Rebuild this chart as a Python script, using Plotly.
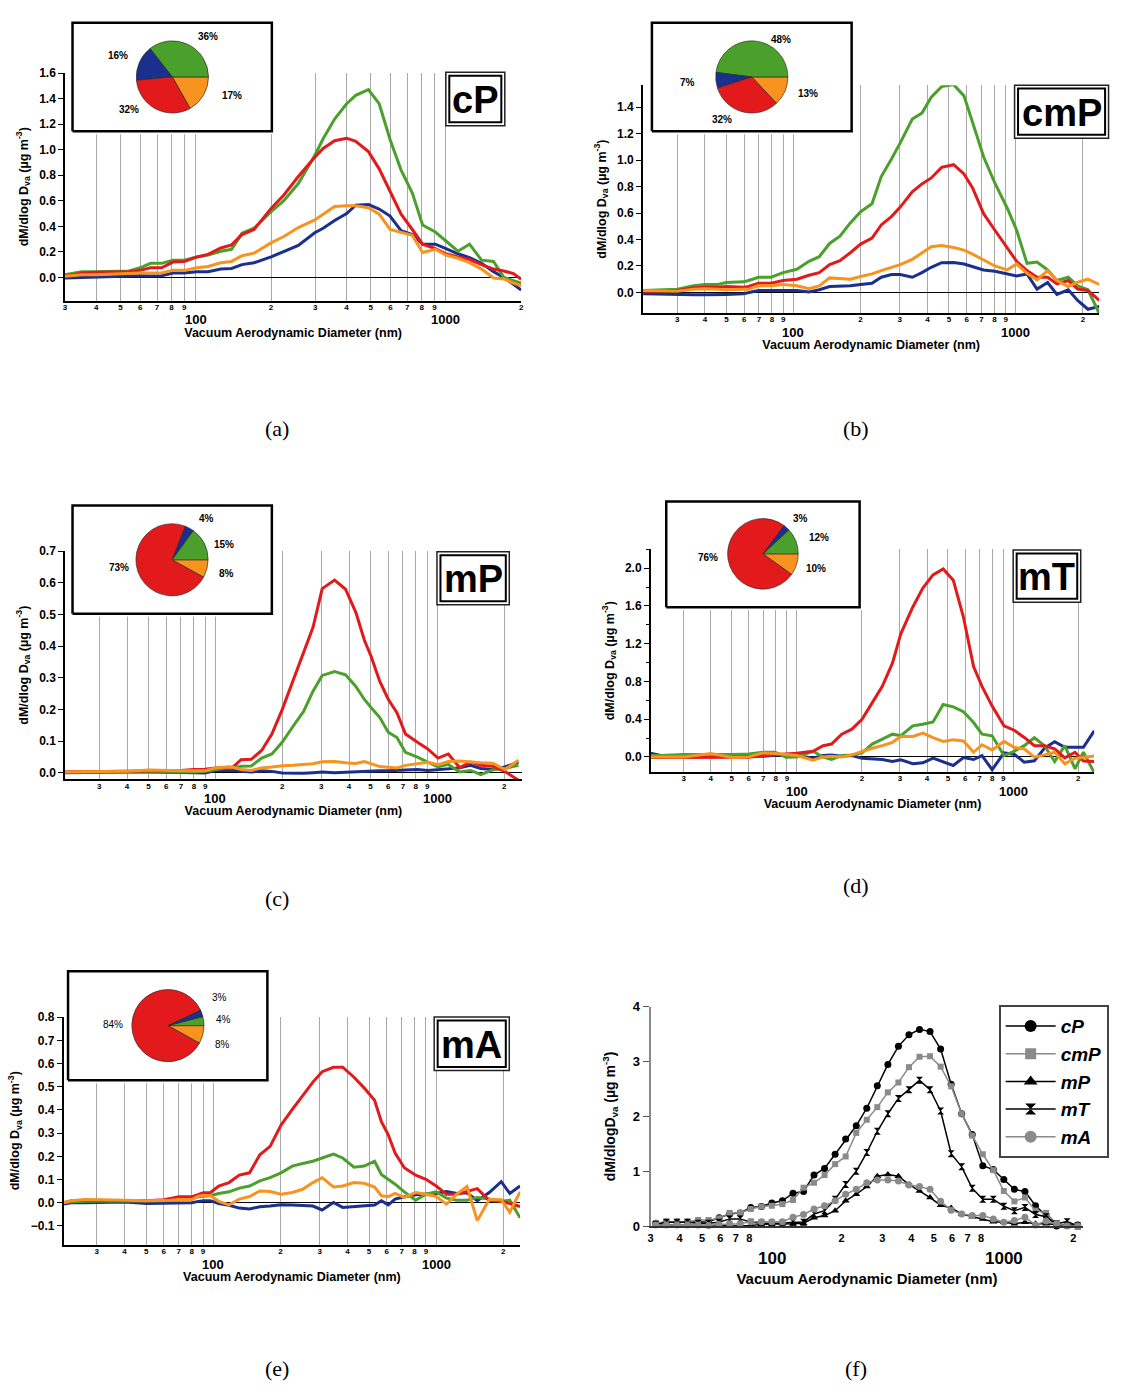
import math
import plotly.graph_objects as go

W, H = 1123, 1392
FONT = "Liberation Sans, Arial, Helvetica, sans-serif"
SERIF = "Liberation Serif, Times New Roman, serif"

def xp(px):
    return px / W

def yp(py):
    return 1 - py / H

GREEN, BLUE, RED, ORANGE = "#4ba02b", "#1b2f8e", "#e31a1c", "#f7931e"
GRAY = "#8a8a8a"

# ---------------- data ----------------
a_x = [30, 35, 40, 50, 54, 60, 66, 73, 81, 90, 101, 112, 126, 139, 153, 171, 200, 225, 257, 299,
       323, 359, 401, 436, 490, 541, 598, 662, 734, 807, 907, 1000, 1117, 1243, 1388, 1550, 1704, 1862, 2000]
a_green = [0.02, 0.045, 0.045, 0.05, 0.05, 0.075, 0.11, 0.11, 0.135, 0.135, 0.16, 0.175, 0.205, 0.22, 0.345, 0.385,
           0.515, 0.6, 0.735, 0.955, 1.085, 1.24, 1.36, 1.425, 1.47, 1.36, 1.08, 0.84, 0.66, 0.41, 0.355, 0.285,
           0.205, 0.26, 0.135, 0.125, 0.0, -0.025, -0.045]
a_red = [0.01, 0.035, 0.04, 0.045, 0.045, 0.055, 0.075, 0.075, 0.12, 0.125, 0.16, 0.18, 0.23, 0.255, 0.335, 0.375,
         0.54, 0.645, 0.79, 0.94, 1.01, 1.07, 1.09, 1.065, 0.985, 0.85, 0.67, 0.495, 0.375, 0.26, 0.225, 0.185,
         0.16, 0.14, 0.1, 0.065, 0.05, 0.03, -0.015]
a_orange = [0.008, 0.02, 0.02, 0.03, 0.035, 0.035, 0.035, 0.035, 0.055, 0.055, 0.075, 0.085, 0.115, 0.125, 0.17,
            0.19, 0.27, 0.32, 0.39, 0.45, 0.495, 0.555, 0.56, 0.56, 0.545, 0.495, 0.375, 0.35, 0.33, 0.195, 0.22,
            0.175, 0.15, 0.115, 0.065, -0.005, -0.012, -0.045, -0.065]
a_blue = [-0.005, 0.0, 0.0, 0.008, 0.008, 0.013, 0.01, 0.013, 0.035, 0.035, 0.045, 0.045, 0.065, 0.07, 0.1, 0.115,
          0.16, 0.2, 0.25, 0.35, 0.385, 0.445, 0.5, 0.565, 0.57, 0.535, 0.48, 0.365, 0.335, 0.26, 0.26, 0.225,
          0.185, 0.155, 0.11, 0.045, 0.0, -0.055, -0.1]

b_x = [21.1, 30.1, 35.6, 39.9, 45.6, 49.9, 59.6, 62.9, 69.5, 79.3, 89.9, 103.6, 117.4, 130.6, 145.4, 161.8, 180.1,
       200.4, 225.4, 248.1, 276.2, 301.9, 342.0, 377.9, 416.2, 463.2, 524.6, 583.9, 638.3, 715.3, 804.3, 911.8,
       1007, 1121, 1243, 1388, 1528, 1719, 1893, 2106, 2369]
b_green = [0.015, 0.025, 0.05, 0.06, 0.06, 0.075, 0.08, 0.09, 0.115, 0.115, 0.15, 0.175, 0.235, 0.27, 0.37, 0.425,
           0.525, 0.61, 0.67, 0.875, 1.01, 1.13, 1.31, 1.355, 1.475, 1.555, 1.57, 1.485, 1.285, 1.025, 0.825, 0.64,
           0.47, 0.22, 0.23, 0.17, 0.09, 0.115, 0.05, 0.02, -0.16]
b_red = [0.008, 0.015, 0.035, 0.04, 0.04, 0.045, 0.04, 0.045, 0.07, 0.07, 0.09, 0.1, 0.13, 0.15, 0.21, 0.24, 0.3,
         0.365, 0.41, 0.51, 0.575, 0.645, 0.76, 0.82, 0.865, 0.945, 0.965, 0.895, 0.79, 0.595, 0.47, 0.34, 0.235,
         0.165, 0.115, 0.115, 0.065, 0.09, 0.025, 0.015, -0.06]
b_orange = [0.015, 0.01, 0.025, 0.028, 0.025, 0.02, 0.025, 0.025, 0.05, 0.05, 0.06, 0.05, 0.028, 0.05, 0.11, 0.105,
            0.1, 0.12, 0.14, 0.165, 0.19, 0.21, 0.25, 0.295, 0.345, 0.355, 0.34, 0.32, 0.29, 0.245, 0.2, 0.17, 0.215,
            0.145, 0.095, 0.165, 0.09, 0.045, 0.077, 0.1, 0.06]
b_blue = [-0.01, -0.018, -0.018, -0.018, -0.018, -0.015, -0.01, 0.0, 0.015, 0.015, 0.015, 0.015, 0.003, 0.02, 0.045,
          0.045, 0.05, 0.06, 0.07, 0.115, 0.135, 0.135, 0.115, 0.15, 0.19, 0.225, 0.227, 0.215, 0.197, 0.17, 0.16,
          0.14, 0.125, 0.14, 0.025, 0.075, -0.015, 0.02, -0.06, -0.127, -0.105]

c_x = [21.0, 29.9, 40.0, 50.0, 59.7, 70.1, 79.9, 89.9, 100, 113.2, 120.3, 130.5, 145.2, 161.6, 179.7, 200.0, 224.8,
       250.1, 275.4, 303.0, 344.4, 385.9, 429.3, 469.3, 503.8, 550.6, 601.7, 657.5, 718.6, 813.8, 905.2, 1007, 1121,
       1260, 1412, 1570, 1778, 2014, 2321]
c_red = [0.003, 0.005, 0.006, 0.007, 0.007, 0.008, 0.011, 0.012, 0.016, 0.018, 0.019, 0.042, 0.043, 0.071, 0.123, 0.2,
         0.294, 0.377, 0.46, 0.582, 0.609, 0.58, 0.507, 0.419, 0.367, 0.289, 0.232, 0.19, 0.123, 0.097, 0.076, 0.047,
         0.06, 0.017, 0.034, 0.024, 0.021, 0.005, -0.023]
c_green = [0.003, 0.003, 0.003, 0.003, 0.001, 0.001, 0.003, 0.005, 0.011, 0.016, 0.016, 0.021, 0.022, 0.047, 0.06,
           0.097, 0.149, 0.195, 0.258, 0.308, 0.32, 0.31, 0.273, 0.232, 0.206, 0.175, 0.128, 0.112, 0.065, 0.05,
           0.034, 0.019, 0.027, 0.003, 0.008, -0.005, 0.01, 0.014, 0.024]
c_orange = [0.003, 0.003, 0.005, 0.009, 0.007, 0.007, 0.007, 0.007, 0.016, 0.019, 0.018, 0.011, 0.008, 0.016, 0.019,
            0.023, 0.024, 0.026, 0.029, 0.035, 0.036, 0.032, 0.03, 0.036, 0.029, 0.02, 0.018, 0.016, 0.024, 0.029,
            0.034, 0.026, 0.036, 0.038, 0.034, 0.032, 0.031, 0.011, 0.04]
c_blue = [0.001, 0.003, 0.003, 0.003, 0.003, 0.002, 0.001, 0.0, 0.008, 0.008, 0.008, 0.005, 0.003, 0.007, 0.005, 0.0,
          -0.001, -0.001, 0.001, 0.003, 0.001, 0.003, 0.005, 0.005, 0.006, 0.007, 0.007, 0.008, 0.011, 0.011, 0.008,
          0.011, 0.014, 0.016, 0.024, 0.014, 0.011, 0.019, 0.034]

d_x = [21.1, 23.5, 30.1, 40.1, 50.1, 60.0, 69.8, 79.4, 89.1, 100, 118.9, 132.4, 144.8, 161.4, 179.8, 200.3, 223.1,
       248.5, 276.8, 302.9, 343.6, 382.7, 426.4, 475, 529, 589.3, 656.5, 718.2, 800, 907.4, 1011, 1126, 1254, 1397,
       1556, 1734, 1932, 2113, 2371]
d_red = [-0.007, -0.007, -0.007, -0.003, -0.007, -0.003, 0.014, 0.021, 0.031, 0.038, 0.059, 0.119, 0.136, 0.241,
         0.294, 0.399, 0.573, 0.748, 0.993, 1.308, 1.587, 1.79, 1.93, 1.993, 1.874, 1.483, 0.958, 0.748, 0.538,
         0.329, 0.283, 0.206, 0.119, 0.119, 0.084, -0.01, 0.049, -0.045, -0.049]
d_green = [0.014, 0.014, 0.024, 0.021, 0.024, 0.031, 0.049, 0.049, -0.003, 0.0, 0.059, -0.003, -0.028, 0.014, 0.021,
           0.042, 0.136, 0.189, 0.241, 0.224, 0.329, 0.346, 0.371, 0.556, 0.531, 0.479, 0.364, 0.241, 0.224, 0.014,
           0.059, 0.119, 0.203, 0.119, -0.049, 0.119, -0.126, 0.049, -0.168]
d_orange = [0.0, 0.0, 0.0, 0.035, -0.007, 0.0, 0.042, 0.035, 0.021, 0.014, -0.035, 0.0, 0.007, 0.0, 0.021, 0.059,
            0.091, 0.119, 0.154, 0.217, 0.217, 0.252, 0.203, 0.164, 0.182, 0.168, 0.049, 0.129, 0.073, 0.164, 0.101,
            0.084, -0.003, 0.021, 0.049, -0.073, -0.014, -0.007, 0.01]
d_blue = [0.038, 0.014, 0.007, 0.021, 0.021, 0.007, 0.007, 0.014, 0.024, 0.014, -0.014, 0.014, 0.021, 0.007, 0.014,
          -0.014, -0.021, -0.028, -0.049, -0.031, -0.073, -0.063, -0.014, -0.049, -0.091, -0.007, -0.028, 0.014,
          -0.136, 0.042, 0.028, -0.056, -0.042, 0.094, 0.161, 0.101, 0.098, 0.101, 0.276]

e_x = [21.3, 23.1, 26.6, 30.1, 34.1, 40.3, 50.2, 60.1, 64.5, 70.2, 80.3, 85.6, 90.3, 96.9, 105.8, 117.7, 130.9,
       145.5, 161.8, 179.9, 201.4, 226.3, 251.7, 279.9, 307.9, 346.1, 380.7, 427.9, 475.9, 529.2, 567.8, 609.5,
       654.4, 719.6, 808.9, 899.4, 1000, 1112, 1237, 1375, 1529, 1730, 1958, 2139, 2378]
e_red = [0.0, 0.009, 0.011, 0.011, 0.011, 0.009, 0.009, 0.013, 0.018, 0.026, 0.026, 0.034, 0.043, 0.043, 0.072,
         0.087, 0.119, 0.129, 0.207, 0.243, 0.335, 0.402, 0.463, 0.52, 0.565, 0.584, 0.584, 0.541, 0.494, 0.442,
         0.349, 0.293, 0.214, 0.151, 0.119, 0.101, 0.072, 0.037, 0.037, 0.048, 0.061, 0.009, 0.006, -0.003, -0.016]
e_green = [0.0, 0.004, 0.006, 0.006, 0.006, 0.006, 0.006, 0.009, 0.011, 0.014, 0.018, 0.026, 0.028, 0.03, 0.04,
           0.047, 0.063, 0.072, 0.094, 0.108, 0.129, 0.158, 0.169, 0.179, 0.193, 0.21, 0.193, 0.153, 0.158, 0.179,
           0.122, 0.101, 0.08, 0.047, 0.011, 0.037, 0.047, 0.02, 0.011, 0.011, 0.023, 0.016, 0.006, 0.011, -0.065]
e_orange = [0.0, 0.009, 0.014, 0.014, 0.014, 0.011, 0.009, 0.009, 0.011, 0.014, 0.014, 0.028, 0.031, 0.031, 0.006,
            -0.009, 0.016, 0.027, 0.051, 0.048, 0.037, 0.044, 0.058, 0.087, 0.108, 0.068, 0.072, 0.087, 0.084,
            0.068, 0.03, 0.026, 0.04, 0.023, 0.044, 0.037, 0.027, -0.006, 0.037, 0.07, -0.077, 0.014, 0.013,
            -0.041, 0.047]
e_blue = [-0.006, 0.0, 0.0, 0.001, 0.004, 0.003, -0.003, -0.003, -0.003, 0.0, 0.0, 0.006, 0.009, 0.009, -0.003,
          -0.011, -0.023, -0.027, -0.017, -0.014, -0.009, -0.01, -0.011, -0.014, -0.031, 0.001, -0.02, -0.017,
          -0.013, -0.01, 0.009, -0.009, 0.016, 0.026, 0.034, 0.037, 0.04, 0.048, 0.04, 0.043, 0.009, 0.044, 0.091,
          0.04, 0.072]

f_x = [31.6, 35.1, 39.0, 43.3, 48.1, 53.4, 59.3, 65.8, 73.1, 81.2, 90.2, 100.1, 111.2, 123.5, 137.1, 152.2, 169.0,
       187.7, 208.4, 231.5, 257.0, 285.4, 317.0, 352.0, 390.8, 434.0, 481.9, 535.3, 594.3, 659.9, 732.8, 813.7,
       903.6, 1003, 1114, 1237, 1374, 1526, 1694, 1881, 2089]
f_cP = [0.05, 0.07, 0.07, 0.07, 0.07, 0.08, 0.15, 0.22, 0.24, 0.34, 0.355, 0.42, 0.46, 0.6, 0.63, 0.93, 1.05, 1.31,
        1.59, 1.83, 2.15, 2.56, 2.95, 3.28, 3.49, 3.59, 3.55, 3.23, 2.59, 2.05, 1.67, 1.1, 1.03, 0.85, 0.67, 0.63,
        0.37, 0.19, 0.0, 0.02, 0.02]
f_cmP = [0.05, 0.08, 0.08, 0.08, 0.11, 0.11, 0.14, 0.24, 0.24, 0.31, 0.355, 0.37, 0.4, 0.475, 0.7, 0.79, 0.93, 1.13,
         1.27, 1.7, 1.94, 2.17, 2.44, 2.62, 2.9, 3.09, 3.1, 2.91, 2.55, 2.05, 1.65, 1.31, 1.02, 0.64, 0.45, 0.52,
         0.28, 0.24, 0.04, 0.0, 0.0]
f_mP = [0.02, 0.02, 0.02, 0.01, 0.01, 0.01, 0.01, 0.0, 0.0, 0.01, 0.03, 0.03, 0.04, 0.04, 0.05, 0.15, 0.19, 0.28,
        0.46, 0.58, 0.72, 0.91, 0.94, 0.91, 0.76, 0.64, 0.52, 0.38, 0.33, 0.22, 0.17, 0.13, 0.08, 0.07, 0.04, 0.07,
        0.04, 0.04, 0.02, 0.01, 0.0]
f_mT = [0.03, 0.07, 0.07, 0.07, 0.05, 0.05, 0.07, 0.13, 0.13, 0.07, 0.05, 0.05, 0.05, 0.07, 0.07, 0.22, 0.28, 0.49,
        0.76, 1.0, 1.34, 1.73, 2.05, 2.33, 2.49, 2.66, 2.49, 2.1, 1.32, 1.08, 0.69, 0.49, 0.49, 0.36, 0.28, 0.34,
        0.21, 0.17, 0.04, 0.08, 0.0]
f_mA = [0.02, 0.02, 0.02, 0.02, 0.02, 0.01, 0.03, 0.04, 0.04, 0.08, 0.08, 0.08, 0.08, 0.16, 0.21, 0.31, 0.37, 0.46,
        0.58, 0.67, 0.79, 0.84, 0.84, 0.82, 0.75, 0.72, 0.67, 0.45, 0.29, 0.22, 0.19, 0.19, 0.13, 0.07, 0.1, 0.16,
        0.02, 0.09, 0.04, 0.0, 0.0]

# pie fractions (%) in order: green, blue, red, orange
a_pie = [36, 16, 32, 17]
b_pie = [48, 7, 32, 13]
c_pie = [15, 4, 73, 8]
d_pie = [12, 3, 76, 10]
e_pie = [4, 3, 84, 8]

panel_names = ["cP", "cmP", "mP", "mT", "mA"]
captions = ["(a)", "(b)", "(c)", "(d)", "(e)", "(f)"]

tick_vals = [30, 40, 50, 60, 70, 80, 90, 100, 200, 300, 400, 500, 600, 700, 800, 900, 1000, 2000]
tick_text = ["3", "4", "5", "6", "7", "8", "9", "", "2", "3", "4", "5", "6", "7", "8", "9", "", "2"]
f_tick_vals = [30, 40, 50, 60, 70, 80, 100, 200, 300, 400, 500, 600, 700, 800, 1000, 2000]
f_tick_text = ["3", "4", "5", "6", "7", "8", "", "2", "3", "4", "5", "6", "7", "8", "", "2"]
decade_vals = [100, 1000]
decade_text = ["100", "1000"]

# ---------------- layout geometry (pixels) ----------------
panels = [
    dict(x=a_x, s=[a_blue, a_green, a_red, a_orange], pie=a_pie, dom=(62.3, 521.0, 66.7, 296.7),
         xr=[math.log10(30), math.log10(2000)], yr=[-0.181, 1.6005], dtick=0.2, minor=None, dec_y=316,
         box=(69.9, 270.3, 16, 125.7), pc=(170.3, 70.7, 36.5),
         plab=[(205.9, 30), (115.4, 49.3), (126.7, 103.3), (230, 89.3)], pbold=True,
         lbox=(445.2, 504.5, 66, 120), cap=(275, 426)),
    dict(x=b_x, s=[b_blue, b_green, b_red, b_orange], pie=b_pie, dom=(643.4, 1102.2, 79, 309.3),
         xr=[1.3236, 3.3746], yr=[-0.155, 1.566], dtick=0.2, minor=None, dec_y=329.3,
         box=(652.4, 853.2, 16, 125.7), pc=(752.8, 70.7, 36.5),
         plab=[(782.6, 33.3), (688.4, 76.7), (723, 114), (809.2, 87.3)], pbold=True,
         lbox=(1017, 1111.5, 79, 132.7), cap=(858, 426)),
    dict(x=c_x, s=[c_blue, c_green, c_red, c_orange], pie=c_pie, dom=(62.3, 521.7, 550, 780.7),
         xr=[1.3225, 3.381], yr=[-0.02, 0.7005], dtick=0.1, minor=None, dec_y=800,
         box=(69.9, 270.3, 504, 613.3), pc=(169.9, 558.8, 36.5),
         plab=[(222.1, 543.3), (204.2, 517.3), (117.1, 566.7), (224.9, 572.7)], pbold=True,
         lbox=(436.3, 509, 550.7, 604.3), cap=(275, 901)),
    dict(x=d_x, s=[d_blue, d_green, d_red, d_orange], pie=d_pie, dom=(651.2, 1097.1, 548.3, 773.3),
         xr=[1.325, 3.375], yr=[-0.16, 2.2], dtick=0.4, minor=0.2, dec_y=792.7,
         box=(666.8, 861.2, 500, 606.7), pc=(764, 552.8, 35.7),
         plab=[(820.1, 536.7), (801.8, 517.3), (708.3, 556.7), (817.1, 567.3)], pbold=True,
         lbox=(1015.6, 1083.5, 549, 601.7), cap=(858, 888)),
    dict(x=e_x, s=[e_blue, e_green, e_red, e_orange], pie=e_pie, dom=(61.0, 520.0, 1021, 1251),
         xr=[1.329, 3.377], yr=[-0.18, 0.8005], dtick=0.1, minor=None, dec_y=1271,
         box=(65.4, 265.8, 974.7, 1085), pc=(165.8, 1029.7, 36.5),
         plab=[(221.4, 1024), (218, 1001.7), (110.2, 1028.3), (220.7, 1048.7)], pbold=False,
         lbox=(433.5, 509, 1021, 1075), cap=(275, 1376)),
]
series_colors = [BLUE, GREEN, RED, ORANGE]
pie_colors = [GREEN, BLUE, RED, ORANGE]
# plotly places the first counterclockwise slice so that it ends at the rotation angle,
# so orange (which ends at 3 o'clock in the reference) goes first
pie_order = [3, 0, 1, 2]

fig = go.Figure()
layout = {}
annotations = []
shapes = []

YTITLE = "dM/dlog D<sub>va</sub> (µg m<sup>-3</sup>)"
XTITLE = "Vacuum Aerodynamic Diameter (nm)"

def axname(i, kind):
    return kind if i == 1 else f"{kind}{i}"

for k, p in enumerate(panels):
    i = k + 1
    xa, ya = axname(i, "x"), axname(i, "y")
    l, r, t, b = p["dom"]
    for col, ys in zip(series_colors, p["s"]):
        fig.add_trace(go.Scatter(x=p["x"], y=ys, mode="lines", line=dict(color=col, width=3),
                                 xaxis=xa, yaxis=ya, showlegend=False, hoverinfo="skip"))
    layout[axname(i, "xaxis")] = dict(
        domain=[xp(l), xp(r)], range=p["xr"], type="log", anchor=ya,
        tickmode="array", tickvals=tick_vals, ticktext=tick_text,
        showgrid=True, gridcolor="#a8a8a8", gridwidth=1,
        ticks="", ticklabelstandoff=-2,
        showline=True, linecolor="black", linewidth=1.5, zeroline=False,
        tickfont=dict(family=FONT, size=8, color="black", weight="bold"),
        title=dict(text=XTITLE, font=dict(family=FONT, size=12.5, color="black", weight="bold"), standoff=17),
        fixedrange=True,
    )
    yd = dict(
        domain=[yp(b), yp(t)], range=p["yr"], anchor=xa, tick0=0, dtick=p["dtick"], tickformat=".1f",
        ticks="outside", ticklen=5, tickcolor="black", showline=True, linecolor="black", linewidth=1.5,
        showgrid=False, zeroline=True, zerolinecolor="black", zerolinewidth=1,
        tickfont=dict(family=FONT, size=12, color="black", weight="bold"),
        title=dict(text=YTITLE, font=dict(family=FONT, size=12.5, color="black", weight="bold"), standoff=8),
        fixedrange=True,
    )
    if p["minor"]:
        yd["minor"] = dict(dtick=p["minor"], ticks="outside", ticklen=3, tickcolor="black", showgrid=False)
    layout[axname(i, "yaxis")] = yd

    for v, txt in zip(decade_vals, decade_text):
        annotations.append(dict(x=math.log10(v), y=yp(p["dec_y"]), xref=xa, yref="paper", text=txt,
                                showarrow=False, xanchor="center", yanchor="middle",
                                font=dict(family=FONT, size=13, color="black", weight="bold")))

    # inset frame (separate hidden subplot so it hides the grid but stays under the pie)
    j = 6 + i
    bx0, bx1, by0, by1 = p["box"]
    pad = 3
    bw, bh = bx1 - bx0, by1 - by0
    layout[f"xaxis{j}"] = dict(domain=[xp(bx0 - pad), xp(bx1 + pad)], range=[-pad / bw, 1 + pad / bw],
                               visible=False, anchor=f"y{j}", fixedrange=True)
    layout[f"yaxis{j}"] = dict(domain=[yp(by1 + pad), yp(by0 - pad)], range=[-pad / bh, 1 + pad / bh],
                               visible=False, anchor=f"x{j}", fixedrange=True)
    fig.add_trace(go.Scatter(x=[0, 1, 1, 0, 0], y=[0, 0, 1, 1, 0], mode="lines", fill="toself",
                             fillcolor="white", line=dict(color="black", width=2.5),
                             xaxis=f"x{j}", yaxis=f"y{j}", showlegend=False, hoverinfo="skip"))

    cx, cy, rr = p["pc"]
    fig.add_trace(go.Pie(values=[p["pie"][n] for n in pie_order],
                         labels=[["g", "b", "r", "o"][n] for n in pie_order], sort=False,
                         direction="counterclockwise", rotation=90, textinfo="none", hoverinfo="skip",
                         showlegend=False,
                         marker=dict(colors=[pie_colors[n] for n in pie_order],
                                     line=dict(color="#222222", width=0.6)),
                         domain=dict(x=[xp(cx - rr), xp(cx + rr)], y=[yp(cy + rr), yp(cy - rr)])))
    for (lx, ly), v in zip(p["plab"], p["pie"]):
        annotations.append(dict(x=xp(lx), y=yp(ly), xref="paper", yref="paper", text=f"{v}%",
                                showarrow=False, xanchor="center", yanchor="middle",
                                font=dict(family=FONT, size=10, color="black",
                                          weight="bold" if p["pbold"] else "normal")))

    # name label box with double border
    lx0, lx1, ly0, ly1 = p["lbox"]
    shapes.append(dict(type="rect", xref="paper", yref="paper", x0=xp(lx0), x1=xp(lx1), y0=yp(ly1), y1=yp(ly0),
                       line=dict(color="#222", width=1.5), fillcolor="white", layer="above"))
    shapes.append(dict(type="rect", xref="paper", yref="paper", x0=xp(lx0 + 3.5), x1=xp(lx1 - 3.5),
                       y0=yp(ly1 - 3.5), y1=yp(ly0 + 3.5),
                       line=dict(color="black", width=2), fillcolor="white", layer="above"))
    annotations.append(dict(x=xp((lx0 + lx1) / 2), y=yp((ly0 + ly1) / 2 + 1), xref="paper", yref="paper",
                            text=panel_names[k], showarrow=False, xanchor="center", yanchor="middle",
                            font=dict(family=FONT, size=38, color="black", weight="bold")))
    annotations.append(dict(x=xp(p["cap"][0]), y=yp(p["cap"][1]), xref="paper", yref="paper",
                            text=captions[k], showarrow=False, xanchor="center", yanchor="middle",
                            font=dict(family=SERIF, size=22, color="black")))

# ---------------- panel (f) ----------------
f_series = [
    ("cP", f_cP, "black", "circle", 7, 12),
    ("cmP", f_cmP, GRAY, "square", 6, 11),
    ("mP", f_mP, "black", "triangle-up", 7, 12),
    ("mT", f_mT, "black", "hourglass", 7, 11),
    ("mA", f_mA, GRAY, "circle", 7, 12),
]
for name, ys, col, sym, sz, lsz in f_series:
    fig.add_trace(go.Scatter(x=f_x, y=ys, name=name, mode="lines+markers",
                             line=dict(color=col, width=1.5),
                             marker=dict(color=col, symbol=sym, size=sz, line=dict(width=0)),
                             xaxis="x6", yaxis="y6", showlegend=False, cliponaxis=False, hoverinfo="skip"))
    # legend sample (larger symbol, as in the reference key)
    fig.add_trace(go.Scatter(x=[None], y=[None], name=name, mode="lines+markers",
                             line=dict(color=col, width=1.5),
                             marker=dict(color=col, symbol=sym, size=lsz, line=dict(width=0)),
                             xaxis="x6", yaxis="y6", showlegend=True, hoverinfo="skip"))

layout["xaxis6"] = dict(
    domain=[xp(651), xp(1086.3)], range=[1.477, 3.345], type="log", anchor="y6",
    tickmode="array", tickvals=f_tick_vals, ticktext=f_tick_text, showgrid=False,
    ticks="", ticklabelstandoff=1, showline=True, linecolor="#333", linewidth=1.5,
    zeroline=False, tickfont=dict(family=FONT, size=11, color="black", weight="bold"),
    title=dict(text=XTITLE, font=dict(family=FONT, size=15, color="black", weight="bold"), standoff=31),
    fixedrange=True,
)
layout["yaxis6"] = dict(
    domain=[yp(1232.3), yp(1010.7)], range=[0, 4.002], anchor="x6", dtick=1, tick0=0,
    ticks="outside", ticklen=6, tickcolor="#555", showline=True, linecolor="#888", linewidth=2,
    showgrid=False, zeroline=False, tickfont=dict(family=FONT, size=13, color="black", weight="bold"),
    title=dict(text="dM/dlogD<sub>va</sub> (µg m<sup>-3</sup>)",
               font=dict(family=FONT, size=14, color="black", weight="bold"), standoff=14),
    fixedrange=True,
)
for v, txt in zip(decade_vals, decade_text):
    annotations.append(dict(x=math.log10(v), y=yp(1265), xref="x6", yref="paper", text=txt, showarrow=False,
                            xanchor="center", yanchor="middle",
                            font=dict(family=FONT, size=17, color="black", weight="bold")))
annotations.append(dict(x=xp(858), y=yp(1376), xref="paper", yref="paper", text=captions[5], showarrow=False,
                        xanchor="center", yanchor="middle", font=dict(family=SERIF, size=22, color="black")))

fig.update_layout(
    width=W, height=H, autosize=False,
    margin=dict(l=0, r=0, t=0, b=0, pad=0),
    paper_bgcolor="white", plot_bgcolor="white",
    font=dict(family=FONT, color="black"),
    annotations=annotations, shapes=shapes,
    legend=dict(x=xp(1001), y=yp(1009), xanchor="left", yanchor="top", bgcolor="white",
                bordercolor="#444", borderwidth=2, itemwidth=50, itemsizing="trace", tracegroupgap=0,
                font=dict(family=FONT, size=19, color="black", weight="bold", style="italic")),
    **layout,
)

fig.write_html("out.html", config={"displayModeBar": False},
               post_script="document.body.style.margin='0';document.body.style.overflow='hidden';")
